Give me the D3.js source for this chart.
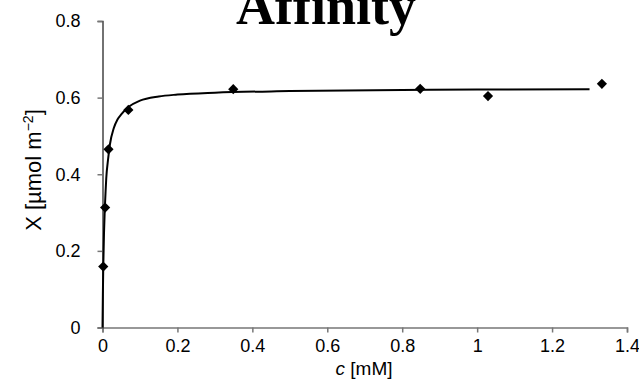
<!DOCTYPE html>
<html>
<head>
<meta charset="utf-8">
<script src="https://cdn.jsdelivr.net/npm/d3@7"></script>
<style>
  body { margin: 0; background: #fff; }
  svg { display: block; }
</style>
</head>
<body>
<svg id="chart" width="639" height="381"></svg>
<script>
// measured points
var concs = [0.002, 0.007, 0.016, 0.069, 0.349, 0.848, 1.029, 1.333];
var amounts = [0.159, 0.313, 0.465, 0.568, 0.622, 0.623, 0.604, 0.636];

// fitted curve
var fitC = [0, 0.001, 0.002, 0.004, 0.006, 0.008, 0.01, 0.015, 0.02, 0.03, 0.04, 0.05, 0.07, 0.1, 0.15, 0.2, 0.3, 0.5, 0.8, 1.0, 1.3];
var fitX = [0, 0.088, 0.156, 0.247, 0.307, 0.35, 0.389, 0.44, 0.479, 0.52, 0.543, 0.556, 0.576, 0.592, 0.603, 0.608, 0.613, 0.617, 0.620, 0.621, 0.622];

var xTicks = [0, 0.2, 0.4, 0.6, 0.8, 1, 1.2, 1.4];
var yTicks = [0, 0.2, 0.4, 0.6, 0.8];

var svg = d3.select("#chart");

var xScale = d3.scaleLinear().domain([0, 1.4]).range([102.5, 627]);
var yScale = d3.scaleLinear().domain([0, 0.8]).range([327.5, 21]);

var axisColor = "#777";

// x axis
var gx = svg.append("g")
    .attr("transform", "translate(0," + yScale(0) + ")")
    .call(d3.axisBottom(xScale).tickValues(xTicks).tickFormat(d3.format("")).tickSize(5).tickPadding(7));
gx.select(".domain").attr("stroke", axisColor).attr("stroke-width", 1.5);
gx.selectAll(".tick line").attr("stroke", axisColor).attr("stroke-width", 1.5);
gx.selectAll(".tick text")
    .attr("fill", "#000")
    .style("font-family", "'Liberation Sans', Arial, sans-serif")
    .style("font-size", "18px");

// y axis
var gy = svg.append("g")
    .attr("transform", "translate(" + xScale(0) + ",0)")
    .call(d3.axisLeft(yScale).tickValues(yTicks).tickFormat(d3.format("")).tickSize(5).tickPadding(17));
gy.select(".domain").attr("stroke", "#444").attr("stroke-width", 1.5);
gy.selectAll(".tick line").attr("stroke", axisColor).attr("stroke-width", 1.5);
gy.selectAll(".tick text")
    .attr("fill", "#000")
    .style("font-family", "'Liberation Sans', Arial, sans-serif")
    .style("font-size", "18px");

// fitted line
var line = d3.line()
    .x(function(d, i) { return xScale(fitC[i]); })
    .y(function(d, i) { return yScale(fitX[i]); })
    .curve(d3.curveMonotoneX);

svg.append("path")
    .datum(fitX)
    .attr("d", line)
    .attr("fill", "none")
    .attr("stroke", "#000")
    .attr("stroke-width", 2);

// diamonds
svg.selectAll(".pt")
    .data(concs)
    .enter().append("path")
    .attr("class", "pt")
    .attr("d", d3.symbol().type(d3.symbolSquare).size(52))
    .attr("transform", function(d, i) {
        return "translate(" + xScale(d) + "," + yScale(amounts[i]) + ") rotate(45)";
    })
    .attr("fill", "#000");

// title
svg.append("text")
    .attr("x", 326)
    .attr("y", 24)
    .attr("text-anchor", "middle")
    .style("font-family", "'Liberation Serif', 'Times New Roman', serif")
    .style("font-weight", "bold")
    .style("font-size", "54px")
    .text("Affinity");

// axis titles
var xt = svg.append("text")
    .attr("x", 364)
    .attr("y", 375)
    .attr("text-anchor", "middle")
    .style("font-family", "'Liberation Sans', Arial, sans-serif")
    .style("font-size", "19px");
xt.append("tspan").style("font-style", "italic").text("c");
xt.append("tspan").text(" [mM]");

var yt = svg.append("text")
    .attr("transform", "translate(41,170) rotate(-90)")
    .attr("text-anchor", "middle")
    .style("font-family", "'Liberation Sans', Arial, sans-serif")
    .style("font-size", "22px");
yt.append("tspan").text("X [\u00b5mol m");
yt.append("tspan").attr("dy", -8).style("font-size", "14px").text("\u22122");
yt.append("tspan").attr("dy", 8).text("]");
</script>
</body>
</html>
